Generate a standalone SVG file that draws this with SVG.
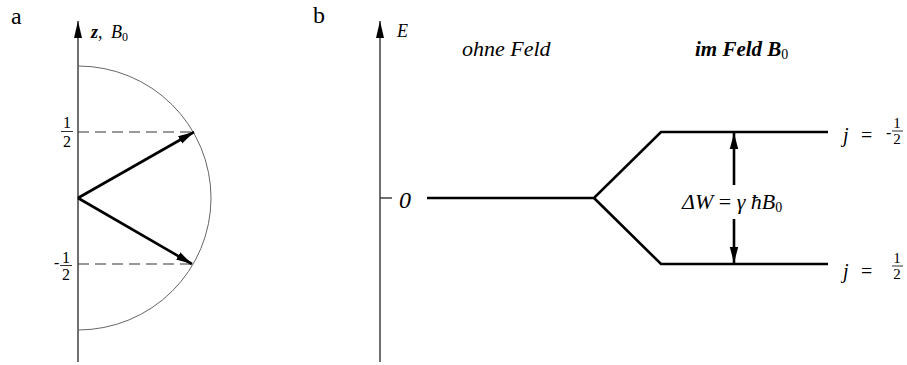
<svg xmlns="http://www.w3.org/2000/svg" width="907" height="365" viewBox="0 0 907 365">
<defs>
<marker id="ah" markerUnits="userSpaceOnUse" markerWidth="18" markerHeight="10" refX="16" refY="5" orient="auto">
<path d="M0,0.8 L16,5 L0,9.2 Z" fill="#000"/>
</marker>
<marker id="axh" markerUnits="userSpaceOnUse" markerWidth="18" markerHeight="10" refX="17" refY="5" orient="auto">
<path d="M0,1 L17,5 L0,9 Z" fill="#000"/>
</marker>
</defs>
<rect width="907" height="365" fill="#fff"/>
<line x1="78" y1="362" x2="78" y2="21" stroke="#333" stroke-width="1.4" marker-end="url(#axh)"/>
<path d="M78,66 A133,132 0 0 1 78,330" stroke="#666" stroke-width="1" fill="none"/>
<line x1="78" y1="132" x2="195" y2="132" stroke="#333" stroke-width="1" stroke-dasharray="11 6"/>
<line x1="78" y1="264" x2="193" y2="264" stroke="#333" stroke-width="1" stroke-dasharray="11 6"/>
<line x1="78" y1="198" x2="194" y2="132" stroke="#000" stroke-width="2.6" marker-end="url(#ah)"/>
<line x1="78" y1="198" x2="192" y2="264" stroke="#000" stroke-width="2.6" marker-end="url(#ah)"/>
<line x1="61" y1="131.5" x2="73" y2="131.5" stroke="#333" stroke-width="1"/>
<line x1="60" y1="265.5" x2="72" y2="265.5" stroke="#333" stroke-width="1"/>
<line x1="380" y1="362" x2="380" y2="21" stroke="#333" stroke-width="1.4" marker-end="url(#axh)"/>
<line x1="380" y1="198" x2="392" y2="198" stroke="#333" stroke-width="1.4"/>
<polyline points="427,198 594,198 661,132 828,132" stroke="#000" stroke-width="2.6" fill="none"/>
<polyline points="594,198 661,264 828,264" stroke="#000" stroke-width="2.6" fill="none"/>
<line x1="734" y1="185" x2="734" y2="133" stroke="#000" stroke-width="2.6" marker-end="url(#ah)"/>
<line x1="734" y1="219" x2="734" y2="263" stroke="#000" stroke-width="2.6" marker-end="url(#ah)"/>
<line x1="892" y1="131" x2="903" y2="131" stroke="#333" stroke-width="1"/>
<line x1="892" y1="266" x2="903" y2="266" stroke="#333" stroke-width="1"/>
<text x="11" y="24" font-size="24" font-family="Liberation Serif">a</text>
<text x="91" y="38" font-size="18" font-family="Liberation Serif"><tspan font-style="italic" font-weight="bold">z</tspan>,<tspan x="111" font-style="italic">B</tspan><tspan font-size="12" dy="3">0</tspan></text>
<text x="67" y="128" font-size="16" font-family="Liberation Serif" text-anchor="middle">1</text>
<text x="67" y="147" font-size="16" font-family="Liberation Serif" text-anchor="middle">2</text>
<text x="54" y="268" font-size="16" font-family="Liberation Serif">-</text>
<text x="66" y="263" font-size="16" font-family="Liberation Serif" text-anchor="middle">1</text>
<text x="66" y="280" font-size="16" font-family="Liberation Serif" text-anchor="middle">2</text>
<text x="313" y="23" font-size="24" font-family="Liberation Serif">b</text>
<text x="397" y="37" font-size="18" font-family="Liberation Serif" font-style="italic">E</text>
<text x="399" y="208" font-size="24" font-family="Liberation Serif" font-style="italic">0</text>
<text x="462" y="56" font-size="22" font-family="Liberation Serif" font-style="italic">ohne Feld</text>
<text x="695" y="56" font-size="21" font-family="Liberation Serif" font-style="italic" font-weight="bold">im Feld B<tspan font-size="14" dy="3" font-style="normal" font-weight="normal">0</tspan></text>
<text x="682" y="209" font-size="22" font-family="Liberation Serif"><tspan font-style="italic">ΔW</tspan> = <tspan font-style="italic">γ ħB</tspan><tspan font-size="14" dy="3">0</tspan></text>
<text x="843" y="142" font-size="20" font-family="Liberation Serif" font-style="italic">j</text>
<text x="861" y="142" font-size="20" font-family="Liberation Serif">=</text>
<text x="886" y="138" font-size="16" font-family="Liberation Serif">-</text>
<text x="897" y="128" font-size="15" font-family="Liberation Serif" text-anchor="middle">1</text>
<text x="897" y="144" font-size="15" font-family="Liberation Serif" text-anchor="middle">2</text>
<text x="843" y="278" font-size="20" font-family="Liberation Serif" font-style="italic">j</text>
<text x="861" y="278" font-size="20" font-family="Liberation Serif">=</text>
<text x="897" y="263" font-size="15" font-family="Liberation Serif" text-anchor="middle">1</text>
<text x="897" y="279" font-size="15" font-family="Liberation Serif" text-anchor="middle">2</text>
</svg>
